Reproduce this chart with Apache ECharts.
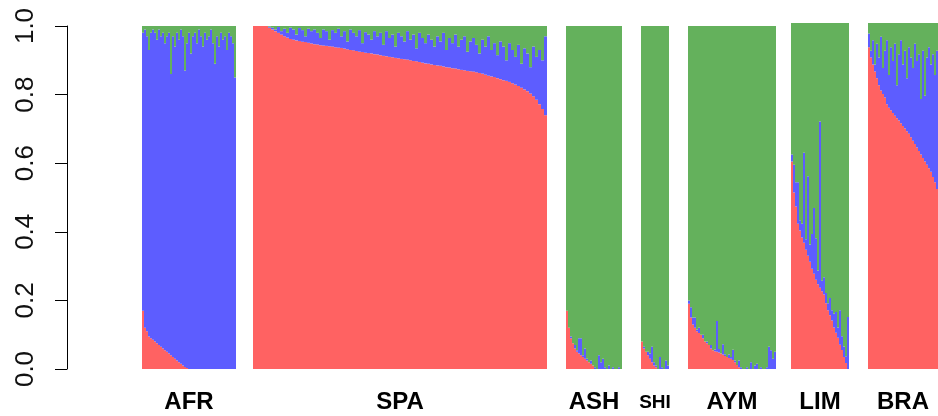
<!DOCTYPE html>
<html><head><meta charset="utf-8">
<script src="https://cdn.jsdelivr.net/npm/echarts@6/dist/echarts.min.js"></script>
<style>html,body{margin:0;padding:0;background:#fff}#c{width:938px;height:416px}</style>
</head><body><div id="c"></div>
<script>
// ---- data ----
const groups = ['AFR', 'SPA', 'ASH', 'SHI', 'AYM', 'LIM', 'BRA'];
const yTickLabels = ['0.0', '0.2', '0.4', '0.6', '0.8', '1.0'];

const afrRed = [0.17,0.12,0.11,0.095,0.09,0.085,0.08,0.075,0.07,0.065,0.06,0.055,0.05,0.045,0.04,0.035,0.03,0.025,0.02,0.015,0.01,0.006,0.003,0,0,0,0,0,0,0,0,0,0,0,0,0,0,0,0,0,0,0,0,0,0,0,0];
const afrBlue = [0.81,0.87,0.86,0.835,0.89,0.905,0.9,0.885,0.92,0.905,0.92,0.895,0.92,0.935,0.82,0.935,0.91,0.955,0.94,0.975,0.96,0.864,0.947,0.98,0.92,0.97,0.98,0.95,0.99,0.97,0.94,0.98,0.96,0.97,0.99,0.95,0.89,0.97,0.94,0.98,0.96,0.97,0.93,0.98,0.97,0.95,0.85];
const afrGreen = [0.02,0.01,0.03,0.07,0.02,0.01,0.02,0.04,0.01,0.03,0.02,0.05,0.03,0.02,0.14,0.03,0.06,0.02,0.04,0.01,0.03,0.13,0.05,0.02,0.08,0.03,0.02,0.05,0.01,0.03,0.06,0.02,0.04,0.03,0.01,0.05,0.11,0.03,0.06,0.02,0.04,0.03,0.07,0.02,0.03,0.05,0.15];

const spaRed = [1,1,1,1,1,0.995,0.99,0.985,0.98,0.975,0.97,0.966,0.962,0.96,0.958,0.956,0.954,0.953,0.951,0.949,0.947,0.946,0.944,0.943,0.942,0.941,0.94,0.938,0.937,0.936,0.934,0.932,0.93,0.929,0.927,0.925,0.924,0.922,0.921,0.92,0.918,0.917,0.915,0.913,0.912,0.91,0.909,0.907,0.906,0.904,0.903,0.902,0.9,0.898,0.897,0.895,0.893,0.891,0.89,0.888,0.886,0.885,0.884,0.882,0.88,0.879,0.877,0.876,0.874,0.872,0.871,0.869,0.868,0.867,0.865,0.863,0.861,0.858,0.855,0.853,0.851,0.848,0.845,0.842,0.84,0.837,0.833,0.829,0.825,0.82,0.815,0.81,0.803,0.795,0.785,0.772,0.758,0.74];
const spaBlue = [0,0,0,0,0,0.003,0.005,0.005,0.017,0.01,0.022,0.014,0.033,0.03,0.017,0.038,0.034,0.017,0.041,0.036,0.043,0.034,0.021,0.047,0.043,0.019,0.048,0.042,0.055,0.034,0.051,0.023,0.06,0.051,0.043,0.063,0.026,0.06,0.054,0.04,0.067,0.053,0.065,0.032,0.073,0.055,0.066,0.033,0.074,0.066,0.052,0.083,0.06,0.077,0.038,0.085,0.072,0.059,0.085,0.072,0.054,0.085,0.071,0.098,0.05,0.086,0.073,0.099,0.066,0.088,0.099,0.056,0.087,0.098,0.08,0.057,0.099,0.082,0.115,0.077,0.099,0.067,0.11,0.098,0.06,0.113,0.097,0.081,0.12,0.07,0.12,0.11,0.077,0.145,0.125,0.158,0.142,0.23];
const spaGreen = [0,0,0,0,0,0.002,0.005,0.01,0.003,0.015,0.008,0.02,0.005,0.01,0.025,0.006,0.012,0.03,0.008,0.015,0.01,0.02,0.035,0.01,0.015,0.04,0.012,0.02,0.008,0.03,0.015,0.045,0.01,0.02,0.03,0.012,0.05,0.018,0.025,0.04,0.015,0.03,0.02,0.055,0.015,0.035,0.025,0.06,0.02,0.03,0.045,0.015,0.04,0.025,0.065,0.02,0.035,0.05,0.025,0.04,0.06,0.03,0.045,0.02,0.07,0.035,0.05,0.025,0.06,0.04,0.03,0.075,0.045,0.035,0.055,0.08,0.04,0.06,0.03,0.07,0.05,0.085,0.045,0.06,0.1,0.05,0.07,0.09,0.055,0.11,0.065,0.08,0.12,0.06,0.09,0.07,0.1,0.03];

const ashRed = [0.17,0.12,0.09,0.075,0.06,0.05,0.045,0.04,0.035,0.03,0.025,0.02,0.015,0.01,0,0,0,0,0,0,0,0,0,0,0,0,0,0];
const ashBlue = [0,0,0.005,0,0.01,0.005,0.045,0.05,0.005,0.03,0.005,0,0.01,0,0.005,0,0.04,0.02,0.03,0.005,0,0.01,0,0.005,0,0,0.005,0];
const ashGreen = [0.83,0.88,0.905,0.925,0.93,0.945,0.91,0.91,0.96,0.94,0.97,0.98,0.975,0.99,0.995,1,0.96,0.98,0.97,0.995,1,0.99,1,0.995,1,1,0.995,1];

const shiRed = [0.08,0.06,0.05,0.04,0.03,0.02,0.01,0.005,0,0,0,0,0,0];
const shiBlue = [0,0.005,0,0.01,0.015,0.045,0.01,0.005,0,0.035,0.005,0,0.025,0.01];
const shiGreen = [0.92,0.935,0.95,0.95,0.955,0.935,0.98,0.99,1,0.965,0.995,1,0.975,0.99];

const aymRed = [0.19,0.15,0.13,0.12,0.11,0.105,0.1,0.09,0.08,0.075,0.07,0.06,0.055,0.052,0.05,0.048,0.045,0.042,0.038,0.035,0.032,0.03,0.026,0.02,0.012,0.005,0,0,0,0,0,0,0,0,0,0,0,0,0,0,0,0,0,0];
const aymBlue = [0.01,0.03,0.02,0.03,0.005,0.015,0,0.01,0,0.005,0,0.01,0,0.005,0.09,0.01,0,0.03,0.005,0,0.01,0.005,0.03,0.005,0,0.02,0.005,0,0,0.005,0,0.02,0,0.01,0.015,0,0.005,0,0,0.005,0.065,0.055,0.03,0.05];
const aymGreen = [0.8,0.82,0.85,0.85,0.885,0.88,0.9,0.9,0.92,0.92,0.93,0.93,0.945,0.943,0.86,0.942,0.955,0.928,0.957,0.965,0.958,0.965,0.944,0.975,0.988,0.975,0.995,1,1,0.995,1,0.98,1,0.99,0.985,1,0.995,1,1,0.995,0.935,0.945,0.97,0.95];

const limRed = [0.6,0.51,0.47,0.42,0.4,0.38,0.365,0.345,0.327,0.31,0.29,0.275,0.258,0.245,0.235,0.225,0.215,0.19,0.17,0.155,0.14,0.12,0.105,0.09,0.07,0.055,0.035,0.017,0];
const limBlue = [0.02,0.08,0.07,0.12,0.03,0.04,0.26,0.03,0.23,0.05,0.1,0.19,0.12,0.04,0.48,0.03,0.05,0.03,0.02,0.05,0.03,0.04,0.06,0.03,0.1,0.04,0.03,0.02,0.15];
const limGreen = [0.38,0.41,0.46,0.46,0.57,0.58,0.375,0.625,0.443,0.64,0.61,0.535,0.622,0.715,0.285,0.745,0.735,0.78,0.81,0.795,0.83,0.84,0.835,0.88,0.83,0.905,0.935,0.963,0.85];

const braRed = [0.93,0.9,0.88,0.86,0.84,0.82,0.805,0.795,0.785,0.765,0.755,0.748,0.74,0.732,0.725,0.718,0.71,0.702,0.695,0.687,0.68,0.67,0.66,0.65,0.64,0.63,0.62,0.61,0.6,0.59,0.58,0.57,0.555,0.54,0.52];
const braBlue = [0.04,0.02,0.07,0.02,0.1,0.08,0.155,0.075,0.135,0.185,0.095,0.182,0.15,0.208,0.095,0.192,0.24,0.178,0.225,0.153,0.25,0.23,0.21,0.29,0.25,0.28,0.16,0.31,0.19,0.31,0.35,0.31,0.355,0.31,0.4];
const braGreen = [0.03,0.08,0.05,0.12,0.06,0.1,0.04,0.13,0.08,0.05,0.15,0.07,0.11,0.06,0.18,0.09,0.05,0.12,0.08,0.16,0.07,0.1,0.13,0.06,0.11,0.09,0.22,0.08,0.21,0.1,0.07,0.12,0.09,0.15,0.08];

const groupData = [
  [afrRed, afrBlue, afrGreen],
  [spaRed, spaBlue, spaGreen],
  [ashRed, ashBlue, ashGreen],
  [shiRed, shiBlue, shiGreen],
  [aymRed, aymBlue, aymGreen],
  [limRed, limBlue, limGreen],
  [braRed, braBlue, braGreen]
];

// ---- layout & style ----
const panels = [
  {left: 142, width: 94, top: 26, height: 343, nameGap: 21, fs: 24},
  {left: 253, width: 294, top: 26, height: 343, nameGap: 21, fs: 24},
  {left: 566, width: 56, top: 26, height: 343, nameGap: 21, fs: 24},
  {left: 641, width: 28, top: 26, height: 343, nameGap: 24, fs: 19},
  {left: 688, width: 88, top: 26, height: 343, nameGap: 21, fs: 24},
  {left: 791, width: 58, top: 23, height: 346, nameGap: 21, fs: 24},
  {left: 868, width: 70, top: 23, height: 346, nameGap: 21, fs: 24}
];
const colors = ['#ff6262', '#5d5dff', '#64b15c'];
const FONT = 'Liberation Sans';

const grid = [], xAxis = [], yAxis = [], series = [];
groupData.forEach((comp, k) => {
  const p = panels[k];
  grid.push({left: p.left, top: p.top, width: p.width, height: p.height, containLabel: false, outerBoundsMode: 'none'});
  xAxis.push({
    type: 'category', gridIndex: k, data: comp[0].map((_, i) => String(i)),
    axisLine: {show: false}, axisTick: {show: false}, axisLabel: {show: false}, splitLine: {show: false},
    name: groups[k], nameLocation: 'middle', nameGap: p.nameGap,
    nameTextStyle: {fontFamily: FONT, fontWeight: 'bold', fontSize: p.fs, color: '#000'}
  });
  yAxis.push({
    type: 'value', gridIndex: k, min: 0, max: 1, interval: 0.2,
    show: k === 0, offset: k === 0 ? 75 : 0,
    axisLine: {show: true, lineStyle: {color: '#000', width: 1}},
    axisTick: {show: true, length: 12, lineStyle: {color: '#000', width: 1}},
    axisLabel: {show: true, rotate: 90, margin: 28, fontFamily: FONT, fontSize: 26, color: '#111',
      formatter: v => yTickLabels[Math.round(v / 0.2)]},
    splitLine: {show: false}
  });
  comp.forEach((vals, c) => {
    series.push({
      type: 'bar', xAxisIndex: k, yAxisIndex: k, stack: 'g' + k, data: vals,
      barCategoryGap: '0%', barGap: '0%',
      itemStyle: {color: colors[c], borderWidth: 0},
      silent: true, animation: false
    });
  });
});

const chart = echarts.init(document.getElementById('c'), null, {renderer: 'canvas'});
chart.setOption({
  backgroundColor: '#ffffff',
  animation: false,
  grid, xAxis, yAxis, series
});
</script>
</body></html>
